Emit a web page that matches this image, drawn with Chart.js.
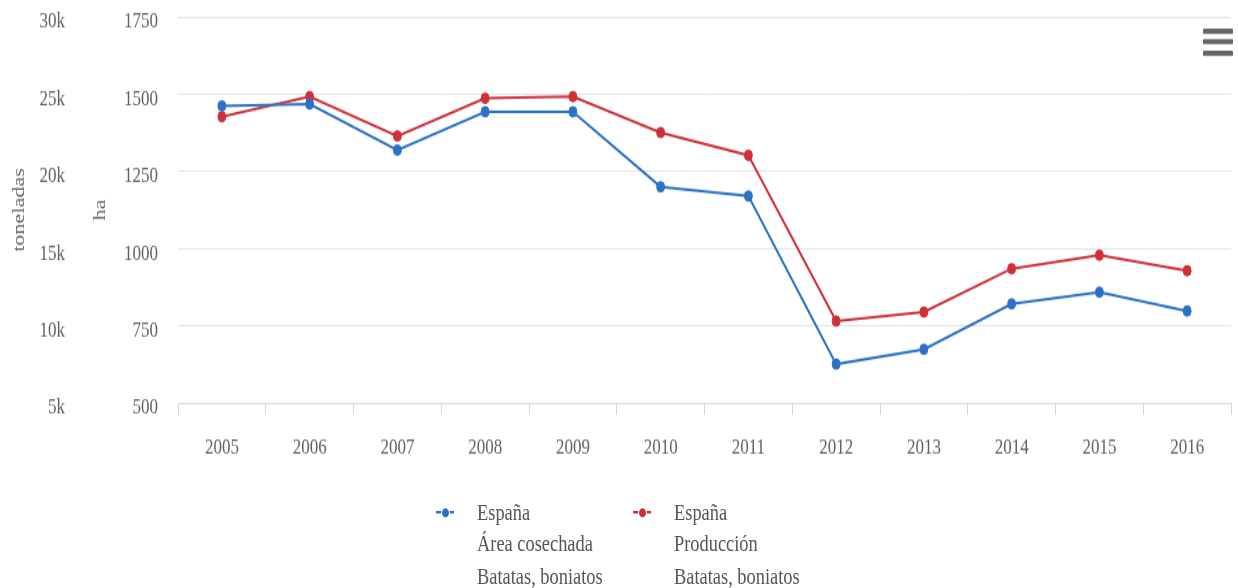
<!DOCTYPE html>
<html>
<head>
<meta charset="utf-8">
<script src="https://cdn.jsdelivr.net/npm/chart.js@4/dist/chart.umd.min.js"></script>
<style>
  html, body { margin: 0; padding: 0; background: #fff; }
  body { width: 1238px; height: 588px; overflow: hidden; }
  /* the reference is stretched vertically, so the whole chart is scaled the same way */
  #wrap { position: relative; width: 1238px; height: 452px; transform: scaleY(1.3); transform-origin: 0 0;
          font-family: "Liberation Serif", serif; color: #555; }
  #box { position: absolute; left: 0; top: 0; width: 1238px; height: 360px; }
  .bar { position: absolute; left: 1203px; width: 30px; height: 4px; background: #666; border-radius: 1px; }
  .item { position: absolute; top: 382px; font-size: 18.4px; line-height: 24.4px; white-space: nowrap; color: #555; }
  .mark { position: absolute; left: -41px; top: 11px; width: 18px; height: 2px; }
  .mark i { position: absolute; left: 4.5px; top: -3.5px; width: 9px; height: 9px; border-radius: 50%;
            box-sizing: border-box; border: 1.5px solid #fff; }
</style>
</head>
<body>
<div id="wrap">
  <div id="box"><canvas id="chart"></canvas></div>
  <div class="bar" style="top:21.5px"></div>
  <div class="bar" style="top:30px"></div>
  <div class="bar" style="top:38.5px"></div>
</div>
<script>
// Données
const years = ['2005', '2006', '2007', '2008', '2009', '2010', '2011', '2012', '2013', '2014', '2015', '2016'];
const areaHa = [1462, 1468, 1319, 1443, 1443, 1200, 1170, 626, 674, 821, 859, 798];
const produccionT = [23540, 24840, 22290, 24730, 24840, 22510, 21040, 10310, 10890, 13700, 14570, 13570];
const areaLabel = ['España', 'Área cosechada', 'Batatas, boniatos'];
const produccionLabel = ['España', 'Producción', 'Batatas, boniatos'];
const haRange = [500, 1750, 250];
const tonRange = [5000, 30000, 5000];

const blue = '#2b72c6';
const red = '#cf3139';
const textColor = '#606060';
const font = { family: '"Liberation Serif", serif', size: 17 };

// pas de marge automatique au-dessus/dessous des axes verticaux
function noPad(scale) {
    scale.paddingTop = 0;
    scale.paddingBottom = 0;
}

new Chart(document.getElementById('chart'), {
    type: 'line',
    data: {
        labels: years,
        datasets: [{
            label: areaLabel.join(' '),
            data: areaHa,
            yAxisID: 'ha',
            borderColor: blue,
            backgroundColor: blue,
            borderWidth: 2,
            pointRadius: 4,
            pointBorderWidth: 1,
            pointBorderColor: blue,
            tension: 0
        }, {
            label: produccionLabel.join(' '),
            data: produccionT,
            yAxisID: 'ton',
            borderColor: red,
            backgroundColor: red,
            borderWidth: 2,
            pointRadius: 4,
            pointBorderWidth: 1,
            pointBorderColor: red,
            tension: 0
        }]
    },
    options: {
        responsive: true,
        maintainAspectRatio: false,
        animation: false,
        layout: { padding: { top: 13, right: 7, bottom: 6, left: 0 } },
        plugins: {
            legend: { display: false },
            tooltip: { enabled: false }
        },
        scales: {
            x: {
                offset: true,
                grid: { offset: true, drawOnChartArea: false, tickLength: 9, color: '#d2d8e3' },
                border: { color: '#d2d8e3' },
                ticks: { padding: 15, color: textColor, font: font, maxRotation: 0 },
                afterFit: function(scale) { scale.height = 44; }
            },
            ton: {
                position: 'left',
                weight: 2,
                min: tonRange[0],
                max: tonRange[1],
                ticks: {
                    stepSize: tonRange[2],
                    padding: 8,
                    labelOffset: 4,
                    color: textColor,
                    font: font,
                    callback: function(value) { return (value / 1000) + 'k'; }
                },
                grid: { drawOnChartArea: false, drawTicks: false },
                border: { display: false },
                title: { display: true, text: 'toneladas', color: textColor, font: font, padding: { top: 9, bottom: 0 } },
                afterFit: function(scale) { scale.width = 73; noPad(scale); }
            },
            ha: {
                position: 'left',
                weight: 1,
                min: haRange[0],
                max: haRange[1],
                ticks: {
                    stepSize: haRange[2],
                    padding: 20,
                    labelOffset: 4,
                    color: textColor,
                    font: font,
                    callback: function(value) { return String(value); }
                },
                grid: { color: '#e3e3e3', drawTicks: false },
                border: { display: false },
                title: { display: true, text: 'ha', color: textColor, font: font, padding: { top: 17, bottom: 0 } },
                afterFit: function(scale) { scale.width = 105; noPad(scale); }
            }
        }
    }
});

// Légende HTML (libellés sur plusieurs lignes)
const legendItems = [
    { lines: areaLabel, color: blue, left: 477 },
    { lines: produccionLabel, color: red, left: 674 }
];
const wrap = document.getElementById('wrap');
legendItems.forEach(function(it) {
    const item = document.createElement('div');
    item.className = 'item';
    item.style.left = it.left + 'px';
    item.innerHTML = '<span class="mark" style="background:' + it.color + '"><i style="background:' +
        it.color + '"></i></span>' + it.lines.join('<br>');
    wrap.appendChild(item);
});
</script>
</body>
</html>
